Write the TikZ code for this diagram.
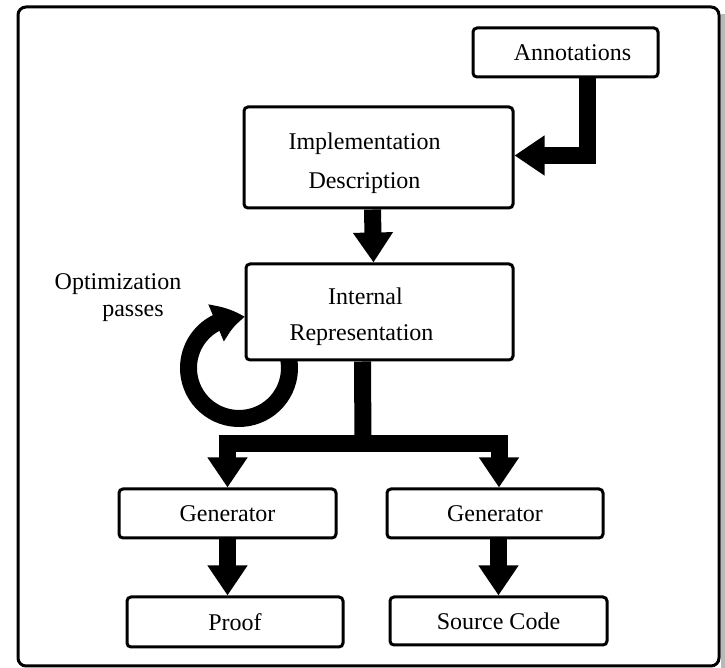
\documentclass[tikz,border=0pt]{standalone}
\usepackage{fontspec}
\setmainfont{Liberation Serif}
\usetikzlibrary{
  arrows.meta,
  bending
}
\tikzstyle{block}=[draw, line width=1.5pt, rounded corners=2pt, align=center, inner sep=0pt]
\tikzstyle{fatarrow}=[-{Triangle[width=19pt,length=15pt]}, line width=8.5pt]
\tikzstyle{fatline}=[line width=8.5pt]
\tikzstyle{looparrow}=[-{Triangle[width=19pt,length=15pt,bend]}, line width=8.5pt]

\begin{document}
\begin{tikzpicture}[x=0.5pt, y=-0.5pt, font=\fontsize{12}{15}\selectfont]
    \useasboundingbox (0,0) rectangle (725,668);

    % 外枠と影
    \fill[gray!55] (721,14) rectangle (725,668);
    \draw[line width=1.5pt, rounded corners=4pt] (18,7) rectangle (719,666);

    % ブロックの描画
    \node[block, minimum width=92.5pt, minimum height=24.5pt] (annot) at (565.5,52.5) {\hspace*{7pt}Annotations};
    \node[block, minimum width=134.5pt, minimum height=50.5pt,
          font=\fontsize{12}{19.5}\selectfont] (impl) at (378.5,157.5) {\rule{0pt}{14pt}Implementation\hspace*{14pt}\\Description\hspace*{14pt}};
    \node[block, minimum width=133.5pt, minimum height=48pt,
          font=\fontsize{12}{18}\selectfont] (ir) at (379.5,312) {\rule{0pt}{13.5pt}Internal\hspace*{14pt}\\Representation\hspace*{18pt}};
    \node[block, minimum width=108.5pt, minimum height=24.5pt] (genL) at (227.5,513.5) {Generator};
    \node[block, minimum width=108pt, minimum height=24.5pt] (genR) at (495,513.5) {Generator};
    \node[block, minimum width=108pt, minimum height=25pt] (proof) at (235,622) {Proof};
    \node[block, minimum width=108.5pt, minimum height=24pt] (src) at (498.5,621) {Source Code};

    % ループのラベル
    \node[align=center, font=\fontsize{12}{13.5}\selectfont] (optlabel) at (118,298) {Optimization\\\hspace*{15pt}passes};

    % 矢印の描画
    \draw[fatarrow] ([xshift=11pt]annot.south) |- ([yshift=1pt]impl.east);
    \draw[fatarrow] ([xshift=-3pt]impl.south) -- ([xshift=-3pt]ir.north);

    % 分岐
    \coordinate (split) at (363,444);
    \draw[fatline] ([xshift=-8.5pt]ir.south) -- (split);
    \draw[fatarrow] (split) -| (genL.north);
    \draw[fatarrow] (split) -| ([xshift=2pt]genR.north);

    \draw[fatarrow] (genL.south) -- (genL.south |- proof.north);
    \draw[fatarrow] (src.north |- genR.south) -- (src.north);

    % 最適化ループ
    \coordinate (loopc) at (239,368);
    \draw[looparrow] (loopc) ++(-9:50.5) arc[start angle=-9, end angle=277, radius=50.5];
\end{tikzpicture}
\end{document}
